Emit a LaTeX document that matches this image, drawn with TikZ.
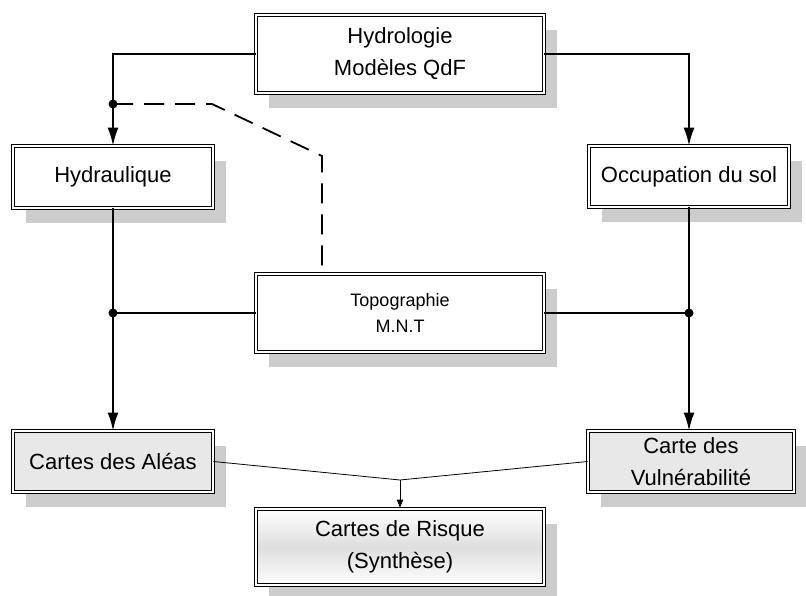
\documentclass[tikz,border=0pt]{standalone}
\usepackage{fontspec}
\setmainfont{Liberation Sans}
\usetikzlibrary{arrows.meta,shadows}

\begin{document}
\begin{tikzpicture}[x=1pt,y=-1pt,
  box/.style={draw=black, line width=0.8pt, double=white, double distance=1.5pt,
    fill=white, inner sep=0pt, align=center,
    font=\fontsize{22}{32}\selectfont,
    drop shadow={shadow xshift=13pt, shadow yshift=-15pt, fill=black!20, opacity=1}},
  greybox/.style={box, fill=black!9},
  mainline/.style={line width=1.8pt},
  thinline/.style={line width=0.8pt},
  bigtip/.style={-{Latex[length=18pt,width=11pt]}},
  smalltip/.style={-{Latex[length=9pt,width=7pt]}},
  junction/.style={fill=black}
]
\useasboundingbox (0,0) rectangle (806,596);

% boxes
\node[box, minimum width=288pt, minimum height=78pt] (hydro) at (400,54)
  {Hydrologie\\Modèles QdF};
\node[box, minimum width=200pt, minimum height=62pt] (hydrau) at (113,177)
  {Hydraulique};
\node[box, minimum width=200pt, minimum height=61pt] (occ) at (689,176.5)
  {Occupation du sol};
\node[box, minimum width=288pt, minimum height=78pt,
      font=\fontsize{18}{26}\selectfont] (topo) at (400,313)
  {Topographie\\M.N.T};
\node[greybox, minimum width=200pt, minimum height=61pt] (alea) at (113,461.5)
  {Cartes des Aléas};
\node[greybox, minimum width=206pt, minimum height=61pt] (vuln) at (691,461.5)
  {Carte des\\Vulnérabilité};
\node[box, top color=white, bottom color=white, middle color=black!13,
      minimum width=288pt, minimum height=76pt] (risk) at (400,547)
  {Cartes de Risque\\(Synthèse)};

% junction points
\coordinate (jtop) at (113,104);
\coordinate (jleft) at (113,313);
\coordinate (jright) at (689,313);
\coordinate (jrisk) at (400,480);
\coordinate (bend) at (322,156);

% main flow
\draw[mainline, bigtip] (hydro.west) -| (hydrau.north);
\draw[mainline, bigtip] (hydro.east) -| (occ.north);
\draw[mainline, bigtip] (hydrau.south) -- (alea.north);
\draw[mainline, bigtip] (occ.south) -- (occ.south |- vuln.north);
\draw[mainline] (topo.west) -- (jleft);
\draw[mainline] (topo.east) -- (jright);

% dashed link to the terrain model
\draw[line width=1.8pt, dash pattern=on 20pt off 11pt]
  (jtop) -- (212,104) -- (bend) -- (bend |- topo.north);

\fill[junction] (jtop) circle (4.5pt);
\fill[junction] (jleft) circle (4.5pt);
\fill[junction] (jright) circle (4.5pt);

% synthesis
\draw[thinline] (alea.east) -- (jrisk);
\draw[thinline] (vuln.west) -- (jrisk);
\draw[thinline, smalltip] (jrisk) -- (risk.north);
\end{tikzpicture}
\end{document}
